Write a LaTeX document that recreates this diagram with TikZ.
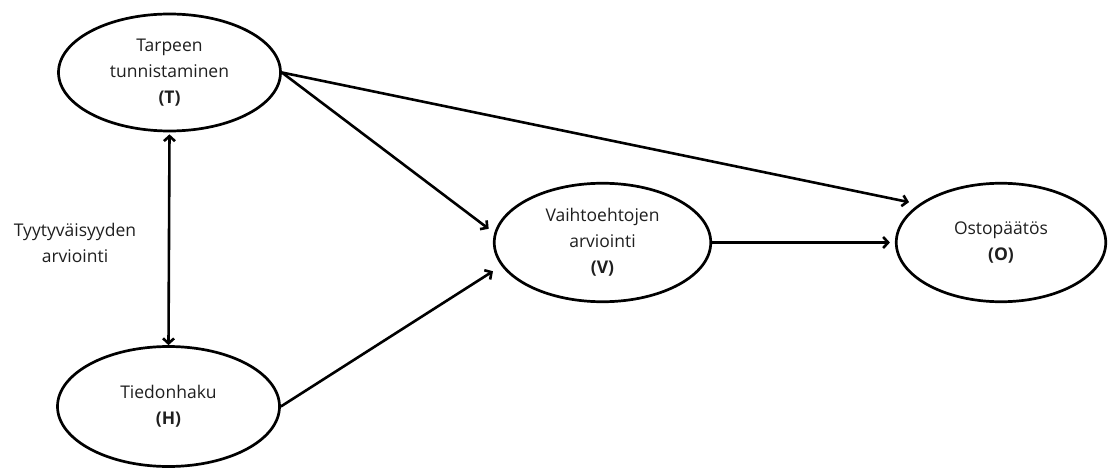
\documentclass[tikz,border=0pt]{standalone}
\usepackage{fontspec}
\setmainfont{Open Sans}
\usetikzlibrary{arrows.meta,shapes.geometric}
\tikzset{
  bubble/.style={ellipse,draw=black,line width=2.7pt,fill=white,align=center,
    inner sep=0pt,font=\fontsize{17.5}{26}\selectfont,text=black!88},
  conn/.style={line width=2.6pt,-{Straight Barb[length=5pt,width=11pt]}},
  lbl/.style={align=center,font=\fontsize{17.5}{26}\selectfont,text=black!88}
}
\begin{document}
\begin{tikzpicture}[x=1pt,y=-1pt]
\useasboundingbox[fill=white] (0,0) rectangle (1110,470);
\node[bubble,minimum width=222,minimum height=117] (T) at (169.5,72.5)
  {Tarpeen\\tunnistaminen\\\textbf{(T)}};
\node[bubble,minimum width=222,minimum height=120] (H) at (168.5,406.5)
  {Tiedonhaku\\\textbf{(H)}};
\node[bubble,minimum width=216.5,minimum height=118.5] (V) at (602.5,242.5)
  {Vaihtoehtojen\\arviointi\\\textbf{(V)}};
\node[bubble,minimum width=209.5,minimum height=118.5] (O) at (1001,242.5)
  {Ostopäätös\\\textbf{(O)}};
\node[lbl] (S) at (75,243) {Tyytyväisyyden\\arviointi};
\draw[conn,shorten >=10pt] (T.east) -- (O.155);
\draw[conn,shorten >=7pt] (T.east) -- (V.175);
\draw[conn,shorten >=10pt] (H.east) -- (V.193);
\draw[conn,shorten >=5pt] (V.east) -- (O.west);
\draw[conn,{Straight Barb[length=5pt,width=11pt]}-{Straight Barb[length=5pt,width=11pt]},shorten <=2pt] (T.south) -- (H.north);
\end{tikzpicture}
\end{document}
